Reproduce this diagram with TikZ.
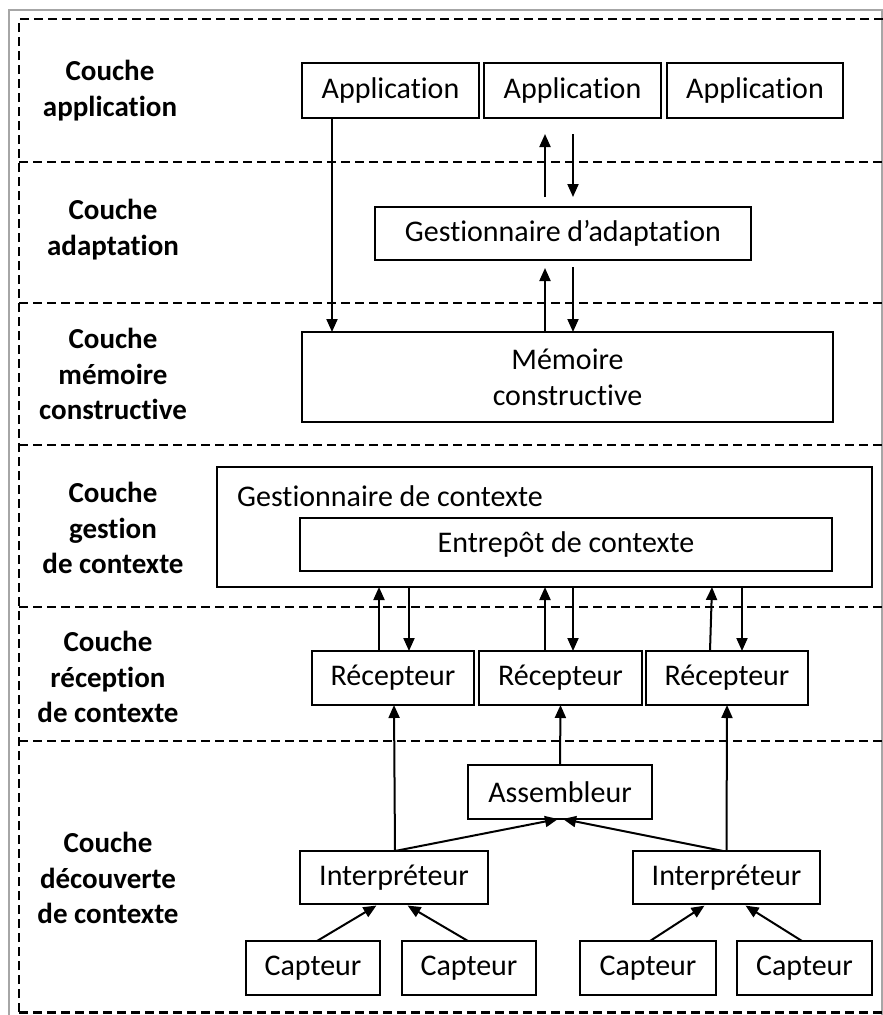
\documentclass[tikz,border=0pt]{standalone}
\usepackage{fontspec}
\setmainfont{Carlito}[Ligatures=NoCommon]
\usetikzlibrary{arrows.meta}
\begin{document}
\begin{tikzpicture}[x=1pt,y=-1pt,
  box/.style={draw, line width=2.2pt, inner sep=0pt, outer sep=0pt, align=center,
    font=\fontsize{30}{36}\selectfont},
  lab/.style={align=center, inner sep=0pt, font=\fontsize{29}{35.5}\selectfont\bfseries},
  arr/.style={line width=2pt, -{Triangle[length=13pt,width=11pt]}},
  sep/.style={line width=2.2pt, dash pattern=on 9pt off 5pt},
  frame/.style={draw=gray!70, line width=1.5pt}]
\useasboundingbox (0,0) rectangle (883,1015);
% outer frames
\draw[frame] (9,1015) -- (9,10) -- (882,10) -- (882,1015);
\draw[sep] (19,1012) -- (19,19) -- (883,19);
\foreach \yy in {162,303,445,607,741} \draw[sep] (19,\yy) -- (883,\yy);
\draw[sep, line width=3pt] (19,1012) -- (883,1012);
% layer labels
\node[lab] (l1) at (110,90.5) {Couche\\application};
\node[lab] (l2) at (113,229.5) {Couche\\adaptation};
\node[lab] (l3) at (113,374) {Couche\\mémoire\\constructive};
\node[lab] (l4) at (113,528) {Couche\\gestion\\de contexte};
\node[lab] (l5) at (108,677) {Couche\\réception\\de contexte};
\node[lab] (l6) at (108,878) {Couche\\découverte\\de contexte};
% boxes
\node[box, minimum width=177pt, minimum height=55pt] (app1) at (390.5,90.5) {Application};
\node[box, minimum width=177pt, minimum height=55pt] (app2) at (572.5,90.5) {Application};
\node[box, minimum width=176pt, minimum height=55pt] (app3) at (755,90.5) {Application};
\node[box, minimum width=376pt, minimum height=53pt] (gest) at (563,233.5) {Gestionnaire d’adaptation};
\node[box, minimum width=531pt, minimum height=90pt] (mem) at (567.5,377) {Mémoire\\constructive};
\node[box, minimum width=655pt, minimum height=120pt] (gctx) at (544.5,527) {};
\node[anchor=west, inner sep=0pt, font=\fontsize{30}{36}\selectfont] (gctxl) at (237,496) {Gestionnaire de contexte};
\node[box, minimum width=532pt, minimum height=53pt] (entr) at (566,544.5) {Entrepôt de contexte};
\node[box, minimum width=162pt, minimum height=54pt] (rec1) at (393,678) {Récepteur};
\node[box, minimum width=163pt, minimum height=54pt] (rec2) at (560.5,678) {Récepteur};
\node[box, minimum width=162pt, minimum height=54pt] (rec3) at (727,678) {Récepteur};
\node[box, minimum width=184pt, minimum height=54pt] (asm) at (560,792) {Assembleur};
\node[box, minimum width=188pt, minimum height=53pt] (int1) at (394,877.5) {Interpréteur};
\node[box, minimum width=187pt, minimum height=53pt] (int2) at (726.5,877.5) {Interpréteur};
\node[box, minimum width=134pt, minimum height=54pt] (cap1) at (313,968) {Capteur};
\node[box, minimum width=134pt, minimum height=54pt] (cap2) at (469,968) {Capteur};
\node[box, minimum width=136pt, minimum height=54pt] (cap3) at (648,968) {Capteur};
\node[box, minimum width=135pt, minimum height=54pt] (cap4) at (804.5,968) {Capteur};
% arrows top
\draw[arr] ([xshift=-58.5pt]app1.south) -- ([xshift=-235.5pt]mem.north);
\draw[arr, shorten <=10pt, shorten >=16pt] ([xshift=-18pt]gest.north) -- ([xshift=-27.5pt]app2.south);
\draw[arr, shorten <=16pt, shorten >=10pt] ([xshift=0.5pt]app2.south) -- ([xshift=10pt]gest.north);
\draw[arr, shorten >=8pt] ([xshift=-22.5pt]mem.north) -- ([xshift=-18pt]gest.south);
\draw[arr, shorten <=7pt] ([xshift=10pt]gest.south) -- ([xshift=5.5pt]mem.north);
% context manager <-> receivers
\draw[arr] ([xshift=-14pt]rec1.north) -- ([xshift=-165.5pt]gctx.south);
\draw[arr] ([xshift=-135.5pt]gctx.south) -- ([xshift=16pt]rec1.north);
\draw[arr] ([xshift=-15.5pt]rec2.north) -- ([xshift=0.5pt]gctx.south);
\draw[arr] ([xshift=28.5pt]gctx.south) -- ([xshift=12.5pt]rec2.north);
\draw[arr] ([xshift=-17pt]rec3.north) -- ([xshift=167.5pt]gctx.south);
\draw[arr] ([xshift=197.5pt]gctx.south) -- ([xshift=15pt]rec3.north);
% discovery
\draw[arr] (asm.north) -- (rec2.south);
\draw[arr] ([xshift=1pt]int1.north) -- ([xshift=1pt]rec1.south);
\draw[arr] (int2.north) -- (rec3.south);
\draw[arr] ([xshift=1pt]int1.north) -- ([xshift=-2pt]asm.south);
\draw[arr] ([xshift=-3.5pt]int2.north) -- ([xshift=3pt]asm.south);
\draw[arr, shorten >=3pt] ([xshift=4pt]cap1.north) -- ([xshift=-15pt]int1.south);
\draw[arr, shorten >=3pt] ([xshift=-1pt]cap2.north) -- ([xshift=11pt]int1.south);
\draw[arr, shorten >=3pt] ([xshift=2pt]cap3.north) -- ([xshift=-19.5pt]int2.south);
\draw[arr, shorten >=3pt] ([xshift=-2.5pt]cap4.north) -- ([xshift=16.5pt]int2.south);
\end{tikzpicture}
\end{document}
